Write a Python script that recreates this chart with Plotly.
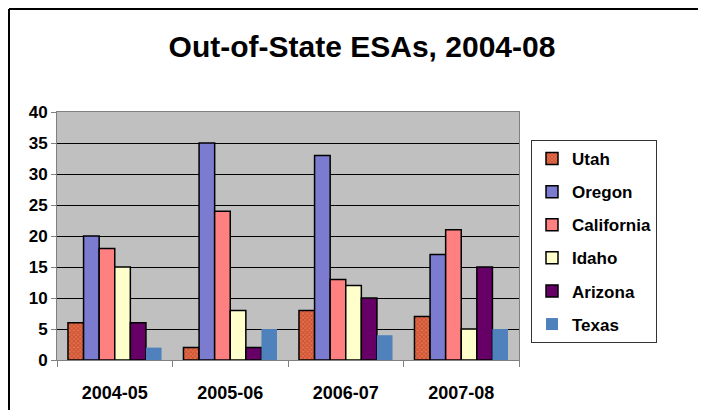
import plotly.graph_objects as go

years = ["2004-05", "2005-06", "2006-07", "2007-08"]
utah = [6, 2, 8, 7]
oregon = [20, 35, 33, 17]
california = [18, 24, 13, 21]
idaho = [15, 8, 12, 5]
arizona = [6, 2, 10, 15]
texas = [2, 5, 4, 5]

series = [
    ("Utah", utah, "#E8704A", 1.5),
    ("Oregon", oregon, "#7B7BCF", 1.5),
    ("California", california, "#FF8080", 1.5),
    ("Idaho", idaho, "#FFFFCC", 1.5),
    ("Arizona", arizona, "#660066", 1.5),
    ("Texas", texas, "#4F81BD", 0),
]

fig = go.Figure()
for name, vals, col, lw in series:
    marker = dict(color=col, line=dict(color="black", width=lw))
    if name == "Utah":
        marker["pattern"] = dict(shape="x", size=3, solidity=0.5, fgcolor="#A03020")
    fig.add_trace(go.Bar(x=years, y=vals, name=name, marker=marker,
                         legendgroup=name))

# page has 8px body margin, so figure px = window px - 8
OFF = 8
L, R, T, B = 57 - OFF, 519 - OFF, 112 - OFF, 360 - OFF
def px_x(p):
    return (p - OFF - L) / (R - L)
def px_y(p):
    return (B - (p - OFF)) / (B - T)

fig.update_layout(
    width=706, height=410,
    margin=dict(l=L, r=706 - R, t=T, b=410 - B, autoexpand=False),
    paper_bgcolor="white",
    plot_bgcolor="#C0C0C0",
    barmode="group",
    bargap=0.19,
    bargroupgap=0,
    title=dict(text="<b>Out-of-State ESAs, 2004-08</b>", x=(362 - OFF) / 706, xanchor="center",
               y=1 - (46 - OFF) / 410, yanchor="middle",
               font=dict(family="Liberation Sans Narrow, Arial Narrow, Liberation Sans", size=30,
                         color="black")),
    font=dict(family="Liberation Sans, Arial", size=16, color="black"),
    legend=dict(x=px_x(531), y=px_y(140), xanchor="left", yanchor="top",
                bordercolor="#333333", borderwidth=1, bgcolor="white",
                font=dict(size=17, family="Liberation Sans, Arial", weight="bold"),
                traceorder="grouped", tracegroupgap=8, itemwidth=30),
    showlegend=True,
    shapes=[
        dict(type="line", xref="paper", yref="paper", x0=px_x(9), x1=px_x(9),
             y0=px_y(9), y1=px_y(430), line=dict(color="black", width=2)),
        dict(type="line", xref="paper", yref="paper", x0=px_x(9), x1=px_x(730),
             y0=px_y(9), y1=px_y(9), line=dict(color="black", width=2)),
    ],
)

fig.update_xaxes(
    type="category", automargin=False,
    showline=True, linecolor="#808080", linewidth=1, mirror=True,
    ticks="outside", tickson="boundaries", ticklen=6, tickcolor="#808080",
    tickfont=dict(size=18, weight="bold"), ticklabelstandoff=16,
    showgrid=False,
)
fig.update_yaxes(
    range=[0, 40], dtick=5, automargin=False,
    showline=True, linecolor="#808080", linewidth=1, mirror=True,
    ticks="outside", ticklen=5, tickcolor="#808080",
    tickfont=dict(size=17, weight="bold"),
    showgrid=True, gridcolor="black", gridwidth=1,
    zeroline=False,
)

fig.write_html("out.html")
